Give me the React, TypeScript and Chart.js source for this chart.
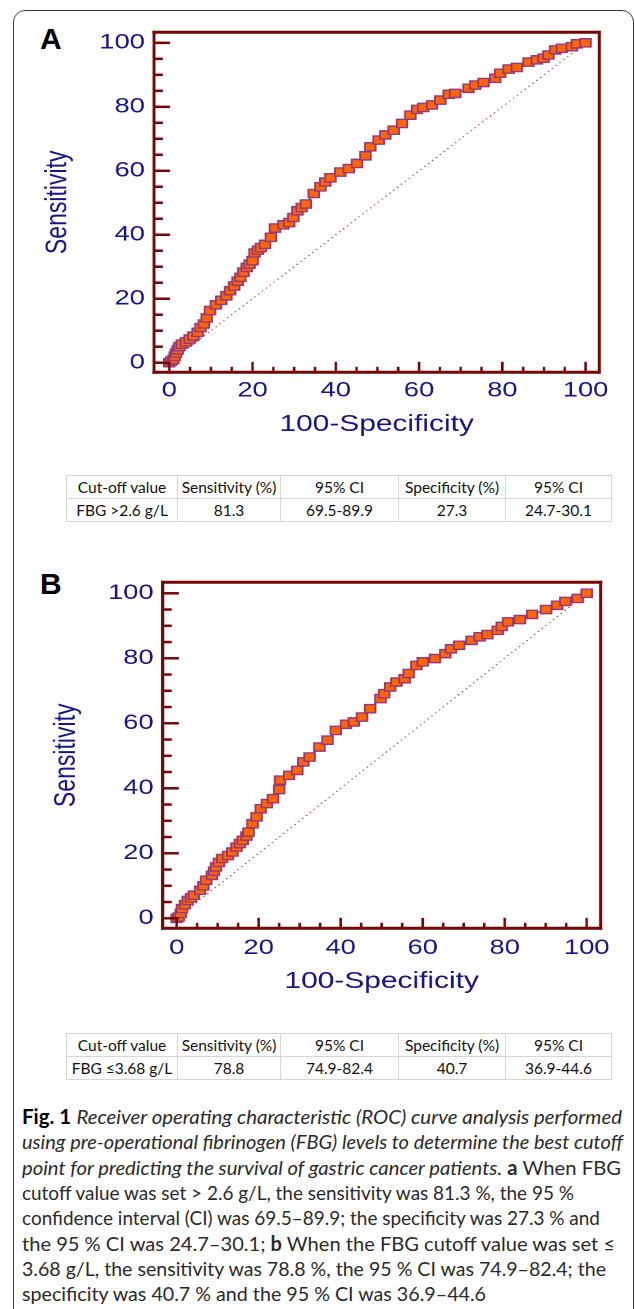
import React, { useEffect, useLayoutEffect, useRef } from 'react';
import { Chart, registerables } from 'chart.js';

Chart.register(...registerables);

// ---------------- data ----------------
const A_FPR = [0, 0.5, 1, 1.3, 1.6, 2, 2.4, 3, 4, 4.9, 5.8, 6.8, 7.5, 8.3, 9, 9.8, 11.2, 12.5, 13.7, 14.6, 15.6, 16.4, 17.1, 17.8, 18.6, 19.3, 20, 20.5, 21.3, 22, 23, 24.4, 25.4, 27.4, 28.8, 29.8, 30.8, 31.8, 32.8, 34.7, 36.3, 37.5, 38.7, 41.1, 43.1, 45.1, 47.1, 48.3, 50.3, 51.9, 53.9, 55.9, 57.9, 59.5, 61, 63.1, 65.1, 67.1, 68.7, 71.9, 73.5, 75.5, 78.3, 79.5, 81.5, 83.5, 86.3, 88.3, 89.9, 91.1, 92.7, 94.3, 96.7, 97.9, 100];
const A_TPR = [0, 0.5, 1, 2, 3, 4, 5, 5.8, 6.5, 7.4, 8.3, 9.5, 11, 12.1, 14, 16.3, 18.1, 19.5, 20.9, 22.5, 24, 25.5, 26.7, 28.3, 29.8, 30.8, 31.9, 34.3, 35.2, 36, 37, 39.2, 42.1, 43.1, 43.8, 45.4, 47.5, 48.5, 49.6, 52.9, 55, 56.5, 57.8, 59.6, 60.7, 62.3, 64.7, 67.5, 69.6, 71.2, 72.7, 74.8, 77.4, 79.2, 79.8, 80.6, 82.1, 83.9, 84.2, 85.8, 86.8, 87.6, 88.9, 90.5, 91.8, 92.3, 94, 94.7, 95.2, 96.2, 97.8, 98.3, 98.8, 99.7, 100];

const B_FPR = [0, 0.5, 1, 1.3, 2, 2.7, 3.5, 4.2, 5.7, 6.5, 7.2, 8.6, 9.1, 9.6, 10.3, 11.1, 12.5, 13.6, 14.6, 15.4, 16.1, 17, 17.5, 18.5, 19.5, 20.5, 22, 23.5, 25, 25.2, 27.4, 29.4, 30.9, 32.4, 34.8, 36.8, 38.8, 41.3, 43.2, 45.2, 47.2, 49.7, 50.6, 52.1, 53.6, 55.6, 56.6, 58.5, 60, 63, 65.5, 66.9, 68.9, 71.9, 73.9, 75.8, 78.3, 79.3, 80.8, 83.7, 86.7, 90.1, 92.8, 94.8, 97.8, 100];
const B_TPR = [0, 0.4, 1.5, 3, 4.2, 5.5, 6.3, 7.1, 8.6, 10, 11.7, 13.2, 14.5, 15.8, 17.2, 18.4, 19.3, 20.4, 21.9, 23, 24, 25.3, 26.5, 29.1, 31.2, 33.7, 35.3, 36.8, 39.6, 42.5, 44, 45.5, 48.1, 49.6, 52.7, 54.8, 57.8, 59.7, 60.4, 61.9, 64.5, 67.6, 69.1, 71.2, 72.7, 73.7, 75.3, 77.8, 78.9, 79.9, 81.4, 82.9, 84, 85.5, 86.6, 87.3, 88.6, 89.8, 91.2, 91.9, 93.5, 95, 96.3, 97.5, 98.4, 100];

const DIAG_X = [0, 100];
const DIAG_Y = [0, 100];

const TICK_VALUES = [0, 20, 40, 60, 80, 100];
const MINOR_TICK_VALUES = [0, 5, 10, 15, 20, 25, 30, 35, 40, 45, 50, 55, 60, 65, 70, 75, 80, 85, 90, 95, 100];

const X_TITLE = '100-Specificity';
const Y_TITLE = 'Sensitivity';

const TABLE_HEADERS = ['Cut-off value', 'Sensitivity (%)', '95% CI', 'Specificity (%)', '95% CI'];
const TABLE_A_ROW = ['FBG >2.6 g/L', '81.3', '69.5-89.9', '27.3', '24.7-30.1'];
const TABLE_B_ROW = ['FBG \u22643.68 g/L', '78.8', '74.9-82.4', '40.7', '36.9-44.6'];

// ---------------- styles ----------------
const STRETCH = 1.3;
const AXIS_COLOR = '#740606';
const LABEL_COLOR = '#15158a';
const MARKER_FILL = '#ff6600';
const MARKER_EDGE = '#98367a';
const DIAG_COLOR = '#b03838';
const CHART_FONT = '"Liberation Sans", Arial, sans-serif';
const TABLE_FONT = 'Lato, "Open Sans", sans-serif';
const CAPTION_FONT = 'Lato, "Open Sans", sans-serif';

if (typeof document !== 'undefined') {
  document.body.style.margin = '0';
  document.body.style.overflow = 'hidden';
}

type RocProps = {
  top: number;
  width: number;
  height: number;
  areaLeft: number;
  areaRight: number;
  areaTop: number;
  areaBottom: number;
  xMin: number;
  xMax: number;
  yMin: number;
  yMax: number;
  yTitlePad: number;
  yTickPad: number;
  xTickPad: number;
  xTitlePad: number;
  fpr: number[];
  tpr: number[];
};

function RocChart(p: RocProps) {
  const ref = useRef<HTMLCanvasElement | null>(null);

  useEffect(() => {
    const canvas = ref.current;
    if (!canvas) return;

    const framePlugin = {
      id: 'rocFrame',
      afterDatasetsDraw(chart: any) {
        const { ctx, chartArea: a, scales } = chart;
        const xs = scales.x;
        const ys = scales.y;
        ctx.save();
        ctx.strokeStyle = AXIS_COLOR;
        ctx.lineCap = 'butt';
        const vw = 3 / STRETCH;
        ctx.lineWidth = 3;
        ctx.beginPath();
        ctx.moveTo(a.left - vw / 2, a.top);
        ctx.lineTo(a.right + vw / 2, a.top);
        ctx.moveTo(a.left - vw / 2, a.bottom);
        ctx.lineTo(a.right + vw / 2, a.bottom);
        ctx.stroke();
        ctx.lineWidth = vw;
        ctx.beginPath();
        ctx.moveTo(a.left, a.top - 1.5);
        ctx.lineTo(a.left, a.bottom + 1.5);
        ctx.moveTo(a.right, a.top - 1.5);
        ctx.lineTo(a.right, a.bottom + 1.5);
        ctx.stroke();
        for (const v of MINOR_TICK_VALUES) {
          const major = TICK_VALUES.includes(v);
          const px = xs.getPixelForValue(v);
          ctx.lineWidth = 2.5 / STRETCH;
          ctx.beginPath();
          ctx.moveTo(px, a.bottom);
          ctx.lineTo(px, a.bottom - (major ? 10.5 : 5.5));
          ctx.stroke();
          const py = ys.getPixelForValue(v);
          ctx.lineWidth = 2.5;
          ctx.beginPath();
          ctx.moveTo(a.left, py);
          ctx.lineTo(a.left + (major ? 16 : 9) / STRETCH, py);
          ctx.stroke();
        }
        ctx.restore();
      },
    };

    const chart = new Chart(canvas, {
      type: 'scatter',
      data: {
        datasets: [
          {
            data: p.fpr.map((x, i) => ({ x, y: p.tpr[i] })),
            showLine: true,
            borderColor: LABEL_COLOR,
            borderWidth: 1,
            pointStyle: 'rect',
            pointRadius: 5.8,
            pointBackgroundColor: MARKER_FILL,
            pointBorderColor: MARKER_EDGE,
            pointBorderWidth: 1.4,
          } as any,
          {
            data: DIAG_X.map((x, i) => ({ x, y: DIAG_Y[i] })),
            showLine: true,
            borderColor: DIAG_COLOR,
            borderWidth: 1,
            borderDash: [1.2, 3],
            pointRadius: 0,
          } as any,
        ],
      },
      options: {
        animation: false,
        responsive: false,
        devicePixelRatio: 2,
        events: [],
        layout: {
          padding: { top: p.areaTop, right: p.width - p.areaRight, left: 0, bottom: 0 },
        },
        plugins: { legend: { display: false }, tooltip: { enabled: false } },
        scales: {
          x: {
            type: 'linear',
            min: p.xMin,
            max: p.xMax,
            grid: { display: false, drawTicks: false },
            border: { display: false },
            ticks: {
              color: LABEL_COLOR,
              font: { family: CHART_FONT, size: 21 },
              padding: p.xTickPad,
              autoSkip: false,
              maxRotation: 0,
            },
            afterBuildTicks: (s: any) => {
              s.ticks = TICK_VALUES.map((v) => ({ value: v }));
            },
            afterFit: (s: any) => {
              s.height = p.height - p.areaBottom;
            },
            title: {
              display: true,
              text: X_TITLE,
              color: LABEL_COLOR,
              font: { family: CHART_FONT, size: 23 },
              padding: { top: 0, bottom: p.xTitlePad },
            },
          },
          y: {
            type: 'linear',
            min: p.yMin,
            max: p.yMax,
            grid: { display: false, drawTicks: false },
            border: { display: false },
            ticks: {
              color: LABEL_COLOR,
              font: { family: CHART_FONT, size: 21 },
              padding: p.yTickPad,
              autoSkip: false,
            },
            afterBuildTicks: (s: any) => {
              s.ticks = TICK_VALUES.map((v) => ({ value: v }));
            },
            afterFit: (s: any) => {
              s.width = p.areaLeft;
            },
            title: {
              display: true,
              text: Y_TITLE,
              color: LABEL_COLOR,
              font: { family: CHART_FONT, size: 23 },
              padding: { top: p.yTitlePad, bottom: 0 },
            },
          },
        },
      } as any,
      plugins: [framePlugin],
    });
    return () => chart.destroy();
  }, []);

  return (
    <div
      style={{
        position: 'absolute',
        left: 0,
        top: p.top,
        width: p.width,
        height: p.height,
        transform: `scaleX(${STRETCH})`,
        transformOrigin: '0 0',
      }}
    >
      <canvas
        ref={ref}
        width={p.width}
        height={p.height}
        style={{ width: p.width, height: p.height, display: 'block' }}
      />
    </div>
  );
}

const COL_WIDTHS = [111, 103, 118, 107, 106];

function StatTable({ top, left, row }: { top: number; left: number; row: string[] }) {
  const cell = (text: string, r: number, c: number) => (
    <div
      key={`${r}-${c}`}
      style={{
        boxSizing: 'border-box',
        borderRight: '1px solid #d6d6d6',
        borderBottom: '1px solid #d6d6d6',
        display: 'flex',
        alignItems: 'center',
        justifyContent: 'center',
        whiteSpace: 'nowrap',
        color: '#111',
      }}
    >
      {text}
    </div>
  );
  return (
    <div
      style={{
        position: 'absolute',
        top,
        left,
        display: 'grid',
        gridTemplateColumns: COL_WIDTHS.map((w) => `${w}px`).join(' '),
        gridTemplateRows: '23px 23px',
        borderTop: '1px solid #d6d6d6',
        borderLeft: '1px solid #d6d6d6',
        fontFamily: TABLE_FONT,
        fontSize: 15.5,
      }}
    >
      {TABLE_HEADERS.map((t, c) => cell(t, 0, c))}
      {row.map((t, c) => cell(t, 1, c))}
    </div>
  );
}

const CAPTION_LINES: React.ReactNode[] = [
  <>
    <b style={{ fontStyle: 'normal', color: '#000' }}>Fig. 1</b>{' '}
    <i>Receiver operating characteristic (ROC) curve analysis performed</i>
  </>,
  <i>using pre-operational fibrinogen (FBG) levels to determine the best cutoff</i>,
  <>
    <i>point for predicting the survival of gastric cancer patients.</i> <b>a</b> When FBG
  </>,
  <>cutoff value was set &gt; 2.6 g/L, the sensitivity was 81.3 %, the 95 %</>,
  <>confidence interval (CI) was 69.5–89.9; the specificity was 27.3 % and</>,
  <>
    the 95 % CI was 24.7–30.1; <b>b</b> When the FBG cutoff value was set ≤
  </>,
  <>3.68 g/L, the sensitivity was 78.8 %, the 95 % CI was 74.9–82.4; the</>,
  <>specificity was 40.7 % and the 95 % CI was 36.9–44.6</>,
];
// rendered width of each caption line in the reference, in px
const CAPTION_WIDTHS = [600, 601, 599, 552, 578, 593, 584, 464];

function CaptionLine({ top, width, children }: { top: number; width: number; children: React.ReactNode }) {
  const ref = useRef<HTMLSpanElement | null>(null);
  useLayoutEffect(() => {
    const el = ref.current;
    if (!el) return;
    el.style.transform = 'none';
    const w = el.getBoundingClientRect().width;
    if (w > 0) el.style.transform = `scaleX(${width / w})`;
  }, [width]);
  return (
    <span
      ref={ref}
      style={{
        position: 'absolute',
        left: 22,
        top,
        display: 'inline-block',
        whiteSpace: 'nowrap',
        fontFamily: CAPTION_FONT,
        fontSize: 20,
        lineHeight: '25px',
        color: '#2a2a2a',
        transformOrigin: '0 0',
      }}
    >
      {children}
    </span>
  );
}

export default function App() {
  return (
    <div
      style={{
        position: 'absolute',
        left: 0,
        top: 0,
        width: 635,
        height: 1309,
        overflow: 'hidden',
        background: '#fff',
      }}
    >
      <div
        style={{
          position: 'absolute',
          left: 13,
          top: 10,
          width: 621,
          height: 1340,
          boxSizing: 'border-box',
          border: '1.5px solid #3a3a3a',
          borderRadius: 12,
        }}
      />
      <div
        style={{
          position: 'absolute',
          left: 40,
          top: 24,
          font: `bold 30px ${CHART_FONT}`,
          lineHeight: '30px',
          color: '#000',
        }}
      >
        A
      </div>
      <RocChart
        top={0}
        width={488}
        height={450}
        areaLeft={118.46}
        areaRight={461}
        areaTop={32.3}
        areaBottom={372.3}
        xMin={-3.67}
        xMax={103.3}
        yMin={-3.0}
        yMax={103.3}
        yTitlePad={30.8}
        yTickPad={7}
        xTickPad={6}
        xTitlePad={11.7}
        fpr={A_FPR}
        tpr={A_TPR}
      />
      <StatTable top={475} left={66} row={TABLE_A_ROW} />

      <div
        style={{
          position: 'absolute',
          left: 40,
          top: 569,
          font: `bold 30px ${CHART_FONT}`,
          lineHeight: '30px',
          color: '#000',
        }}
      >
        B
      </div>
      <RocChart
        top={550}
        width={488}
        height={450}
        areaLeft={125.15}
        areaRight={462}
        areaTop={32.3}
        areaBottom={378.3}
        xMin={-3.41}
        xMax={103.4}
        yMin={-3.08}
        yMax={103.38}
        yTitlePad={37.5}
        yTickPad={7}
        xTickPad={7.4}
        xTitlePad={4.7}
        fpr={B_FPR}
        tpr={B_TPR}
      />
      <StatTable top={1033} left={66} row={TABLE_B_ROW} />

      {CAPTION_LINES.map((line, i) => (
        <CaptionLine key={i} top={1104 + i * 25.3} width={CAPTION_WIDTHS[i]}>
          {line}
        </CaptionLine>
      ))}
    </div>
  );
}
